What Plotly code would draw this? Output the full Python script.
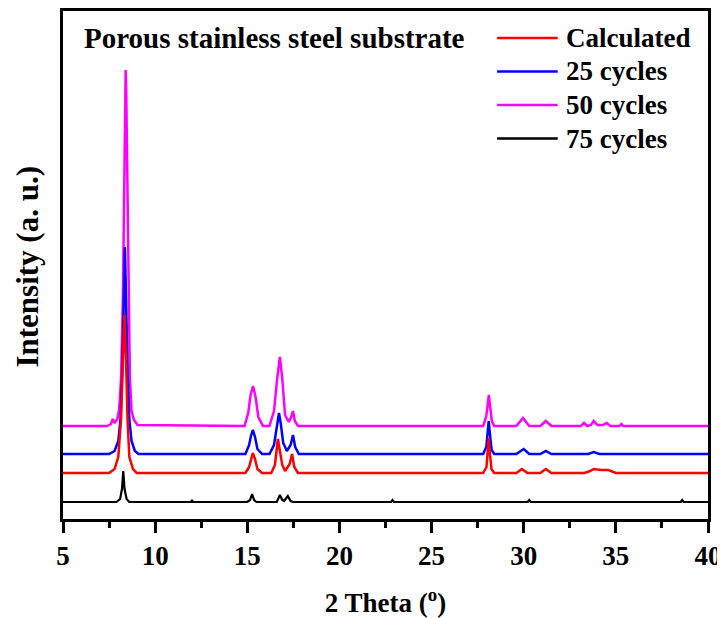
import plotly.graph_objects as go

# ---- data (2 Theta in degrees, intensity in arbitrary offset units) ----
x_calc = [5.0, 7.5, 7.8, 8.0, 8.15, 8.25, 8.33, 8.42, 8.5, 8.6, 8.8, 9.0,
          14.9, 15.1, 15.2, 15.3, 15.42, 15.55, 15.8,
          16.3, 16.5, 16.6, 16.66, 16.75, 16.9, 17.05, 17.3, 17.43, 17.55, 17.75,
          27.8, 27.98, 28.06, 28.1, 28.15, 28.25, 28.4,
          29.6, 29.9, 30.2, 30.9, 31.2, 31.5, 33.3, 33.6, 33.8, 34.2, 34.6, 35.0, 40.0]
y_calc = [46, 46, 50, 62, 100, 160, 204, 160, 100, 62, 50, 46,
          46, 52, 60, 66, 60, 50, 46,
          46, 54, 68, 80, 70, 54, 48, 55, 65, 52, 46,
          46, 52, 70, 81, 68, 50, 46,
          46, 50, 46, 46, 50, 46, 46, 48, 50, 49, 49, 46, 46]

x_25 = [5.0, 7.5, 7.8, 8.0, 8.12, 8.22, 8.3, 8.36, 8.42, 8.5, 8.6, 8.72, 8.9, 9.1,
        14.9, 15.1, 15.2, 15.3, 15.42, 15.55, 15.8,
        16.2, 16.45, 16.6, 16.72, 16.82, 16.95, 17.15, 17.35, 17.48, 17.6, 17.8,
        27.8, 27.97, 28.05, 28.1, 28.16, 28.26, 28.4,
        29.6, 30.0, 30.3, 30.9, 31.2, 31.5, 33.5, 33.8, 34.1, 40.0]
y_25 = [65, 65, 68, 78, 100, 150, 220, 272, 220, 150, 100, 78, 68, 65,
        65, 74, 83, 89, 82, 70, 65,
        65, 74, 92, 106, 95, 76, 68, 74, 84, 72, 65,
        65, 72, 90, 98, 86, 69, 65,
        65, 70, 65, 65, 68, 65, 65, 67, 65, 65]

x_50 = [5.0, 7.4, 7.6, 7.7, 7.8, 7.95, 8.05, 8.15, 8.25, 8.32, 8.37, 8.40, 8.43,
        8.48, 8.55, 8.63, 8.72, 8.85, 9.05,
        14.85, 15.05, 15.18, 15.31, 15.45, 15.6, 15.85,
        16.2, 16.45, 16.62, 16.77, 16.9, 17.05, 17.25, 17.38, 17.48, 17.58, 17.75,
        27.8, 27.97, 28.05, 28.11, 28.18, 28.27, 28.4,
        29.6, 29.96, 30.3, 30.9, 31.2, 31.5, 33.1, 33.27, 33.45, 33.65, 33.8, 34.0,
        34.3, 34.5, 34.7, 35.2, 35.3, 35.4, 40.0]
y_50 = [93, 93, 95, 100, 96, 100, 110, 140, 220, 340, 430, 449, 430,
        340, 220, 140, 108, 99, 94,
        93, 106, 124, 133, 122, 102, 93,
        93, 108, 140, 162, 140, 104, 97, 102, 108, 98, 93,
        93, 103, 118, 124, 112, 98, 93,
        93, 101, 93, 93, 98, 93, 93, 96, 93, 94, 98, 94,
        94, 96, 93, 93, 95, 93, 93]

x_75 = [5.0, 7.9, 8.1, 8.2, 8.27, 8.34, 8.45, 8.6,
        11.95, 12.0, 12.05,
        15.0, 15.15, 15.26, 15.37, 15.5,
        16.6, 16.77, 16.9, 17.0, 17.2, 17.35, 17.5,
        22.8, 22.88, 22.96,
        30.22, 30.3, 30.38,
        38.52, 38.6, 38.68, 40.0]
y_75 = [17, 17, 20, 30, 48, 30, 20, 17,
        17, 19, 17,
        17, 19, 25, 19, 17,
        17, 24, 19, 18, 23, 18, 17,
        17, 19, 17,
        17, 19, 17,
        17, 19, 17, 17]

x_ticks = [5, 10, 15, 20, 25, 30, 35, 40]
x_minor = [7.5, 12.5, 17.5, 22.5, 27.5, 32.5, 37.5]

# name, x, y, colour, width (drawing order: magenta, blue, red, black)
series = [
    ("50 cycles", x_50, y_50, "#ff00ff", 2.5),
    ("25 cycles", x_25, y_25, "#0000ff", 2.5),
    ("Calculated", x_calc, y_calc, "#ff0000", 2.5),
    ("75 cycles", x_75, y_75, "#000000", 2.2),
]
legend_order = ["Calculated", "25 cycles", "50 cycles", "75 cycles"]

FONT = "Liberation Serif"

fig = go.Figure()
for name, xs, ys, color, w in series:
    fig.add_trace(go.Scatter(
        x=xs, y=ys, mode="lines", name=name,
        line=dict(color=color, width=w), showlegend=False,
    ))

# hand-laid legend (long sample lines, tight row spacing as in the reference)
annotations = [
    dict(text="<b>Porous stainless steel substrate</b>",
         xref="paper", yref="paper", x=0.029, y=0.947,
         xanchor="left", yanchor="middle", showarrow=False,
         font=dict(family=FONT, size=29, color="black")),
    dict(text="<b>Intensity (a. u.)</b>",
         xref="paper", yref="paper", x=-0.055, y=0.496,
         xanchor="center", yanchor="middle", showarrow=False, textangle=-90,
         font=dict(family=FONT, size=31, color="black")),
]
shapes = []
lookup = {s[0]: s for s in series}
row_y0, row_step = 0.947, 0.066
for i, name in enumerate(legend_order):
    _, _, _, color, w = lookup[name]
    yy = row_y0 - i * row_step
    shapes.append(dict(type="line", xref="paper", yref="paper",
                       x0=0.673, x1=0.767, y0=yy, y1=yy,
                       line=dict(color=color, width=2.5)))
    annotations.append(dict(text=f"<b>{name}</b>", xref="paper", yref="paper",
                            x=0.776, y=yy, xanchor="left", yanchor="middle",
                            showarrow=False,
                            font=dict(family=FONT, size=27, color="black")))

fig.update_layout(
    width=717, height=610,
    margin=dict(l=55, r=17, t=3, b=99, autoexpand=False),
    paper_bgcolor="white", plot_bgcolor="white",
    font=dict(family=FONT, color="black"),
    showlegend=False,
    annotations=annotations,
    shapes=shapes,
)

fig.update_xaxes(
    range=[5, 40], tickvals=x_ticks, ticktext=[str(t) for t in x_ticks],
    automargin=False,
    showline=True, linecolor="black", linewidth=2.5, mirror=True,
    ticks="outside", ticklen=11, tickwidth=2.5, tickcolor="black",
    minor=dict(ticks="outside", ticklen=6, tickwidth=2.5, tickcolor="black",
               tickvals=x_minor),
    showgrid=False, zeroline=False,
    tickfont=dict(family=FONT, size=27, color="black", weight="bold"),
    title=dict(text="<b>2 Theta (<sup>o</sup>)</b>", standoff=26,
               font=dict(family=FONT, size=27, color="black")),
)
fig.update_yaxes(
    range=[0, 508], showticklabels=False, ticks="", automargin=False,
    showline=True, linecolor="black", linewidth=2.5, mirror=True,
    showgrid=False, zeroline=False,
)

fig.write_html("out.html")
